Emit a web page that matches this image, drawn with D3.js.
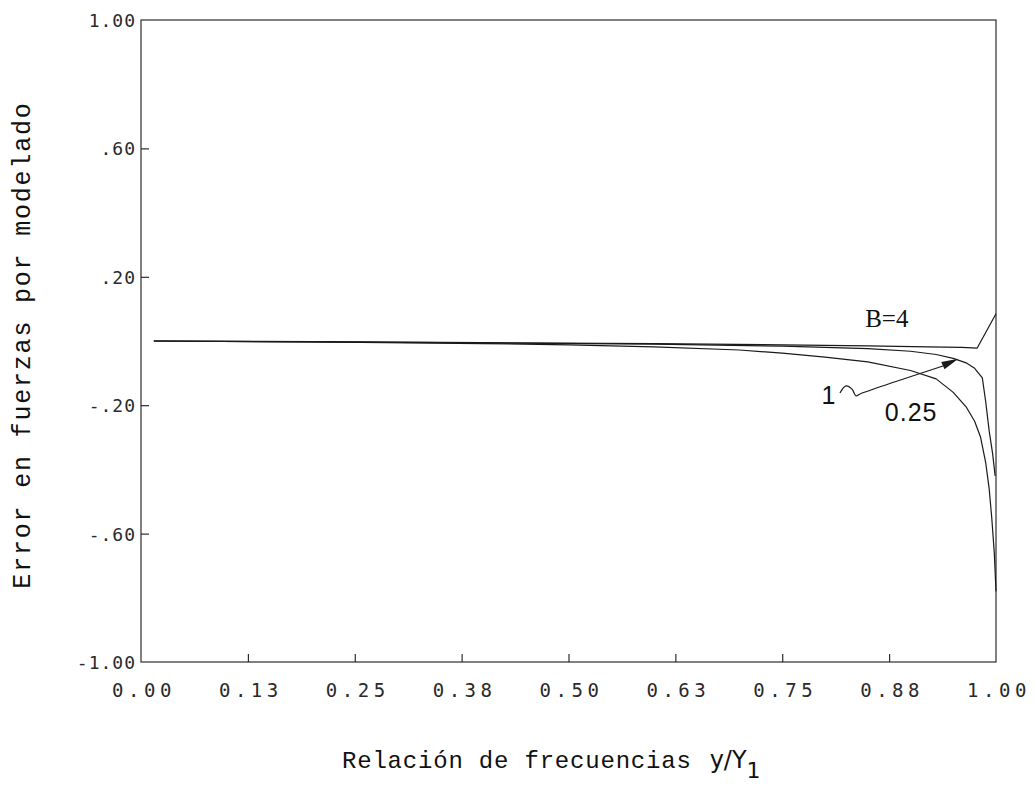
<!DOCTYPE html>
<html>
<head>
<meta charset="utf-8">
<script src="https://cdn.jsdelivr.net/npm/d3@7/dist/d3.min.js"></script>
<style>
  html, body { margin: 0; padding: 0; background: #fff; }
  svg { display: block; }
  .tick-label { font-family: "DejaVu Sans Mono", monospace; fill: #2a2a2a; }
  .axis-title { font-family: "Liberation Mono", "DejaVu Sans Mono", monospace; fill: #111; }
  .note { font-family: "Liberation Sans", Arial, sans-serif; fill: #111; }
</style>
</head>
<body>
<svg id="chart" width="1035" height="793"></svg>
<script>
// Frequency ratio y/Y1 ticks and error ticks
const xTicks = [0, 0.125, 0.25, 0.375, 0.5, 0.625, 0.75, 0.875, 1.0];
const xTickLabels = ["0.00", "0.13", "0.25", "0.38", "0.50", "0.63", "0.75", "0.88", "1.00"];
const yTicks = [1.0, 0.6, 0.2, -0.2, -0.6, -1.0];
const yTickLabels = ["1.00", ".60", ".20", "-.20", "-.60", "-1.00"];

// Curve B=4
const b4Ratio = [0.015, 0.2, 0.4, 0.6, 0.75, 0.85, 0.92, 0.96, 0.978, 1.0];
const b4Error = [0, -0.002, -0.005, -0.008, -0.012, -0.015, -0.018, -0.02, -0.022, 0.085];

// Curve B=1
const b1Ratio = [0.015, 0.2, 0.4, 0.6, 0.75, 0.85, 0.9, 0.93, 0.95, 0.965, 0.975, 0.984, 0.988, 0.992, 0.996, 0.999];
const b1Error = [0, -0.003, -0.006, -0.01, -0.016, -0.024, -0.032, -0.042, -0.054, -0.068, -0.085, -0.115, -0.19, -0.28, -0.35, -0.42];

// Curve B=0.25
const b025Ratio = [0.015, 0.2, 0.4, 0.5, 0.6, 0.7, 0.75, 0.8, 0.85, 0.9, 0.93, 0.95, 0.965, 0.975, 0.982, 0.988, 0.992, 0.995, 0.998, 1.0];
const b025Error = [0, -0.003, -0.008, -0.012, -0.018, -0.028, -0.038, -0.05, -0.065, -0.092, -0.118, -0.16, -0.205, -0.25, -0.3, -0.38, -0.46, -0.55, -0.66, -0.78];

const svg = d3.select("#chart");
const plotLeft = 141, plotRight = 996, plotTop = 20, plotBottom = 662;

const x = d3.scaleLinear().domain([0, 1]).range([plotLeft, plotRight]);
const y = d3.scaleLinear().domain([-1, 1]).range([plotBottom, plotTop]);

const ink = "#1a1a1a";

// Frame
svg.append("rect")
  .attr("x", plotLeft).attr("y", plotTop)
  .attr("width", plotRight - plotLeft).attr("height", plotBottom - plotTop)
  .attr("fill", "none").attr("stroke", ink).attr("stroke-width", 1.1);

// Bottom axis: inward ticks
const xAxis = d3.axisBottom(x).tickValues(xTicks.slice(1, -1)).tickSizeInner(-8).tickSizeOuter(0).tickFormat("");
const gx = svg.append("g").attr("transform", `translate(0,${plotBottom})`).call(xAxis);
gx.select(".domain").remove();
gx.selectAll(".tick line").attr("stroke", ink).attr("stroke-width", 1.1);

// Left axis: inward ticks
const yAxis = d3.axisLeft(y).tickValues(yTicks.slice(1, -1)).tickSizeInner(-8).tickSizeOuter(0).tickFormat("");
const gy = svg.append("g").attr("transform", `translate(${plotLeft},0)`).call(yAxis);
gy.select(".domain").remove();
gy.selectAll(".tick line").attr("stroke", ink).attr("stroke-width", 1.1);

// Tick labels
svg.selectAll(".xlab").data(xTicks).enter().append("text")
  .attr("class", "tick-label")
  .attr("x", d => x(d) + 3).attr("y", plotBottom + 35)
  .attr("text-anchor", "middle")
  .style("font-size", "19px")
  .style("letter-spacing", "4.5px")
  .text((d, i) => xTickLabels[i]);

svg.selectAll(".ylab").data(yTicks).enter().append("text")
  .attr("class", "tick-label")
  .attr("x", plotLeft - 5).attr("y", d => y(d) + 7)
  .attr("text-anchor", "end")
  .style("font-size", "18px")
  .style("letter-spacing", "1px")
  .text((d, i) => yTickLabels[i]);

// Curves
const line = d3.line().x(d => x(d[0])).y(d => y(d[1]));
const series = [
  [b4Ratio, b4Error],
  [b1Ratio, b1Error],
  [b025Ratio, b025Error]
];
series.forEach(([xs, ys]) => {
  svg.append("path")
    .datum(xs.map((v, i) => [v, ys[i]]))
    .attr("d", line)
    .attr("fill", "none")
    .attr("stroke", ink)
    .attr("stroke-width", 1.2)
    .attr("stroke-linejoin", "round");
});

// Axis titles
svg.append("text")
  .attr("class", "axis-title")
  .attr("transform", `translate(30,${(plotTop + plotBottom) / 2 + 4}) rotate(-90)`)
  .attr("text-anchor", "middle")
  .style("font-size", "25px")
  .style("letter-spacing", "1.8px")
  .text("Error en fuerzas por modelado");

const xt = svg.append("text")
  .attr("class", "axis-title")
  .attr("x", 342).attr("y", 768)
  .style("font-size", "24px")
  .style("letter-spacing", "0.8px");
xt.append("tspan").text("Relación de frecuencias");
xt.append("tspan").attr("dx", 18).style("font-family", "'DejaVu Sans', sans-serif").style("font-size", "24px").style("letter-spacing", "0px").text("y/Y");
xt.append("tspan").attr("dy", 10).style("font-family", "'DejaVu Sans', sans-serif").style("font-size", "22px").style("letter-spacing", "0px").text("1");

// Curve annotations
svg.append("text").attr("class", "note")
  .attr("x", x(0.847)).attr("y", y(0.043))
  .style("font-family", "'Liberation Serif', serif")
  .style("font-size", "25px")
  .text("B=4");

svg.append("text").attr("class", "note")
  .attr("x", x(0.87)).attr("y", y(-0.25))
  .style("font-size", "25px")
  .style("letter-spacing", "1px")
  .text("0.25");

svg.append("text").attr("class", "note")
  .attr("x", x(0.796)).attr("y", y(-0.195))
  .style("font-size", "25px")
  .text("1");

// Squiggle leader from the "1" label to the B=1 curve
const leader = [
  [0.8175, -0.162], [0.8246, -0.140], [0.8316, -0.150], [0.8363, -0.171],
  [0.841, -0.165], [0.938, -0.078]
];
svg.append("path")
  .datum(leader)
  .attr("d", d3.line().x(d => x(d[0])).y(d => y(d[1])).curve(d3.curveCatmullRom.alpha(0.5)))
  .attr("fill", "none").attr("stroke", ink).attr("stroke-width", 1.2);

// Arrow head pointing at the B=1 curve
const tip = [0.956, -0.055];
const back = [0.935, -0.080];
const ang = Math.atan2(y(tip[1]) - y(back[1]), x(tip[0]) - x(back[0]));
const tx = x(tip[0]), ty = y(tip[1]);
const L = 17, W = 4;
const bx = tx - L * Math.cos(ang), by = ty - L * Math.sin(ang);
svg.append("path")
  .attr("d", `M${tx},${ty} L${bx - W * Math.sin(ang)},${by + W * Math.cos(ang)} L${bx + W * Math.sin(ang)},${by - W * Math.cos(ang)} Z`)
  .attr("fill", ink);
</script>
</body>
</html>
